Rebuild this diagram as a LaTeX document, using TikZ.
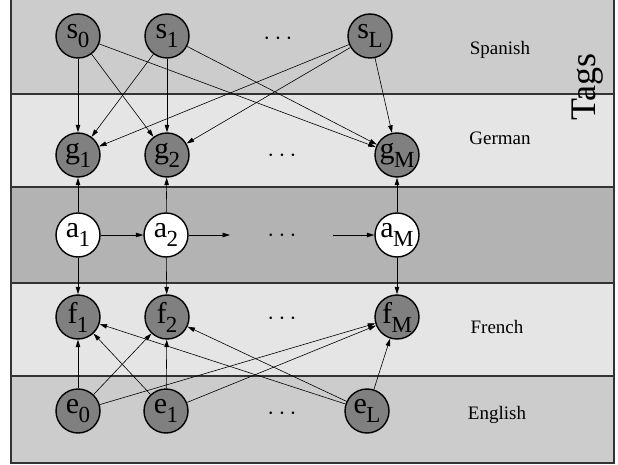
\documentclass[tikz,border=0pt]{standalone}
\usepackage{fontspec}
\setmainfont{Liberation Serif}
\usetikzlibrary{arrows.meta}
\definecolor{bandA}{HTML}{CCCCCC}
\definecolor{bandB}{HTML}{E5E5E5}
\definecolor{bandC}{HTML}{B3B3B3}
\definecolor{nodegray}{HTML}{808080}
\newcommand\vlab[2]{#1\kern-0.5pt\raisebox{-9pt}{\fontsize{23}{23}\selectfont #2}}
\tikzset{
  var/.style={circle, draw=black, line width=1.4pt, fill=nodegray, minimum size=44pt, inner sep=0pt, font=\fontsize{30}{30}\selectfont},
  align/.style={var, fill=white},
  dotsnode/.style={inner sep=0pt, font=\fontsize{30}{30}\selectfont},
  lang/.style={inner sep=0pt, font=\fontsize{19}{19}\selectfont},
  arr/.style={-{Triangle[length=7.5pt,width=4.5pt]}, line width=0.6pt},
  bandline/.style={draw=black!80, line width=1.3pt}
}
\begin{document}
\begin{tikzpicture}[x=1pt,y=-1pt]
\useasboundingbox (0,0) rectangle (618,465);
% bands
\fill[bandA] (11,0) rectangle (614,94);
\fill[bandB] (11,94) rectangle (614,187);
\fill[bandC] (11,187) rectangle (614,283);
\fill[bandB] (11,283) rectangle (614,376);
\fill[bandA] (11,376) rectangle (614,463);
\draw[bandline] (11,94) -- (614,94);
\draw[bandline] (11,187) -- (614,187);
\draw[bandline] (11,283) -- (614,283);
\draw[bandline] (11,376) -- (614,376);
\draw[bandline] (11,0) -- (11,463) -- (614,463) -- (614,0);
% labels
\node[lang] (spanish) at (500,50) {Spanish};
\node[lang] (german) at (500,138) {German};
\node[lang] (french) at (497,327) {French};
\node[lang] (english) at (497,415) {English};
\node[inner sep=0pt, rotate=90, font=\fontsize{36}{36}\selectfont] (tags) at (588,87) {Tags};
% nodes
\node[var] (s0) at (78,36) {\vlab{s}{0}};
\node[var] (s1) at (167,36) {\vlab{s}{1}};
\node[var] (sL) at (370,36) {\vlab{s}{L}};
\node[dotsnode] (sd) at (278,39) {$\cdots$};
\node[var] (g1) at (78,155) {\vlab{g}{1}};
\node[var] (g2) at (167,155) {\vlab{g}{2}};
\node[var] (gM) at (397,155) {\vlab{g}{M}};
\node[dotsnode] (gd) at (282,156) {$\cdots$};
\node[align] (a1) at (78,235) {\vlab{a}{1}};
\node[align] (a2) at (166,235) {\vlab{a}{2}};
\node[align] (aM) at (397,235) {\vlab{a}{M}};
\node[dotsnode] (ad) at (282,236) {$\cdots$};
\node[var] (f1) at (78,317) {\vlab{f}{1}};
\node[var] (f2) at (167,317) {\vlab{f}{2}};
\node[var] (fM) at (397,317) {\vlab{f}{M}};
\node[dotsnode] (fd) at (282,319) {$\cdots$};
\node[var] (e0) at (78,411) {\vlab{e}{0}};
\node[var] (e1) at (166,411) {\vlab{e}{1}};
\node[var] (eL) at (367,411) {\vlab{e}{L}};
\node[dotsnode] (ed) at (282,414) {$\cdots$};
\coordinate (astubend) at (230,235);
\coordinate (astubstart) at (333,235);
% Spanish -> German
\foreach \s in {s0,s1,sL}{
  \foreach \g in {g1,g2,gM}{
    \draw[arr] (\s) -- (\g);
  }
}
% English -> French
\foreach \e in {e0,e1,eL}{
  \foreach \f in {f1,f2,fM}{
    \draw[arr] (\e) -- (\f);
  }
}
% alignment
\draw[arr] (a1) -- (g1);
\draw[arr] (a2) -- (g2);
\draw[arr] (aM) -- (gM);
\draw[arr] (a1) -- (f1);
\draw[arr] (a2) -- (f2);
\draw[arr] (aM) -- (fM);
\draw[arr] (a1) -- (a2);
\draw[arr] (a2) -- (astubend);
\draw[arr] (astubstart) -- (aM);
\end{tikzpicture}
\end{document}
